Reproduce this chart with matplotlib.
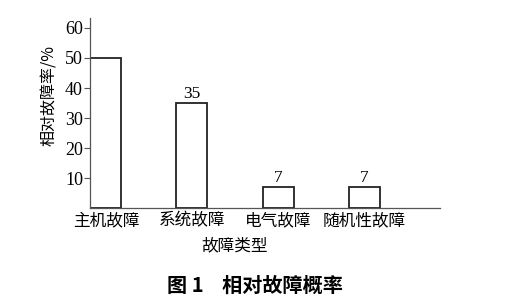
import matplotlib
matplotlib.use("Agg")
import matplotlib.pyplot as plt

categories = ["主机故障", "系统故障", "电气故障", "随机性故障"]
rates = [50, 35, 7, 7]
shown_labels = [None, "35", "7", "7"]
yticks = [10, 20, 30, 40, 50, 60]

cjk = ["Noto Sans CJK SC", "DejaVu Sans"]
serif = ["Liberation Serif", "DejaVu Serif"]

fig = plt.figure(figsize=(5.05, 3.06), dpi=100)
ax = fig.add_axes([0.178, 0.320, 0.693, 0.621])

x = range(len(categories))
bars = ax.bar(x, rates, width=0.36, facecolor="white", edgecolor="#222222", linewidth=1.3)
for b, lab in zip(bars, shown_labels):
    if lab:
        ax.text(b.get_x() + b.get_width() / 2, b.get_height() + 0.5, lab,
                ha="center", va="bottom", fontsize=12.5, family=serif)

ax.set_xlim(-0.186, 3.88)
ax.set_ylim(0, 63.3)
ax.set_yticks(yticks)
ax.set_yticklabels([str(t) for t in yticks], family=serif, fontsize=13)
ax.set_xticks(list(x))
ax.set_xticklabels(categories, family=cjk, fontsize=12)
ax.tick_params(axis="x", length=0, pad=3)
ax.tick_params(axis="y", length=4, width=0.8, color="#555555", pad=1)
for s in ["top", "right"]:
    ax.spines[s].set_visible(False)
for s in ["left", "bottom"]:
    ax.spines[s].set_color("#555555")
    ax.spines[s].set_linewidth(0.9)

fig.text(235 / 505, 1 - 246 / 306, "故障类型", ha="center", va="center",
         family=cjk, fontsize=12)
fig.text(50 / 505, 1 - 95 / 306, "相对故障率/%", ha="center", va="center",
         rotation=90, family=cjk, fontsize=11.5)

fig.text(0.505, 1 - 285 / 306, "图 1    相对故障概率", ha="center", va="center",
         family=cjk, fontsize=14.5, fontweight="bold")

fig.savefig("out.png", dpi=100)
